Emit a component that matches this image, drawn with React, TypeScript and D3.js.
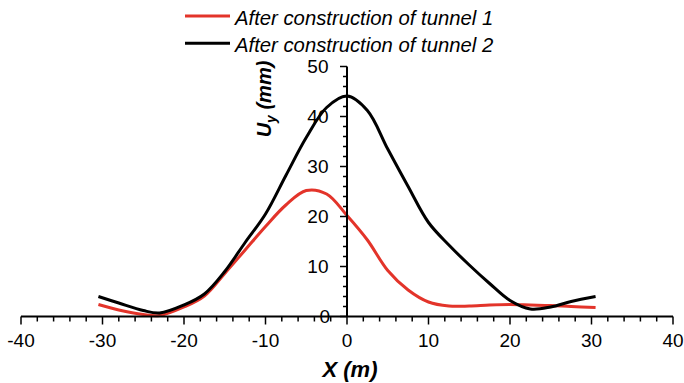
import React from "react";
import * as d3 from "d3";

// Horizontal position (m) of each measurement point
const xTunnel1 = [-30.5, -28, -25, -23, -20, -17.5, -15, -12.5, -10, -7.5, -5, -2.5, 0, 2.5, 5, 7.5, 10, 12.5, 15, 17.5, 20, 22.5, 25, 27.5, 30.5];
// Vertical settlement Uy (mm) after tunnel 1
const uyTunnel1 = [2.4, 1.3, 0.4, 0.2, 1.9, 4.1, 8.6, 13.3, 18, 22.3, 25.2, 24.5, 20.2, 15.3, 9.2, 5.3, 2.9, 2.1, 2.1, 2.3, 2.4, 2.3, 2.2, 2.0, 1.8];

const xTunnel2 = [-30.5, -28, -25, -23, -20, -17.5, -15, -12.5, -10, -7.5, -5, -2.5, 0, 2.5, 5, 7.5, 10, 12.5, 15, 17.5, 20, 22.5, 25, 27.5, 30.5];
// Vertical settlement Uy (mm) after tunnel 2
const uyTunnel2 = [4.0, 2.7, 1.2, 0.7, 2.3, 4.5, 9.0, 14.8, 20.5, 28.2, 35.8, 41.8, 44.1, 41.2, 33.5, 26, 18.8, 14.3, 10.3, 6.6, 3.2, 1.5, 1.9, 3.0, 4.0];

const xTicks = [-40, -30, -20, -10, 0, 10, 20, 30, 40];
const yTicks = [0, 10, 20, 30, 40, 50];

const seriesNames = ["After construction of tunnel 1", "After construction of tunnel 2"];
const seriesColors = ["#e3342a", "#000000"];

const W = 684;
const H = 383;
const FONT = "'Liberation Sans', Arial, sans-serif";

export default function App() {
  const x = d3.scaleLinear().domain([-40, 40]).range([21, 673]);
  const y = d3.scaleLinear().domain([0, 50]).range([316.5, 66.5]);
  const x0 = x(0);
  const y0 = y(0);

  const line = d3
    .line<[number, number]>()
    .x((d) => x(d[0]))
    .y((d) => y(d[1]))
    .curve(d3.curveCatmullRom.alpha(0.5));

  const s1 = xTunnel1.map((v, i) => [v, uyTunnel1[i]] as [number, number]);
  const s2 = xTunnel2.map((v, i) => [v, uyTunnel2[i]] as [number, number]);

  const xMinor = d3.range(-40, 40.001, 2);
  const yMinor = d3.range(0, 50.001, 2);

  return (
    <svg
      width={W}
      height={H}
      style={{ position: "absolute", left: 0, top: 0, background: "#fff" }}
      fontFamily={FONT}
    >
      {/* data lines */}
      <path d={line(s1) || ""} fill="none" stroke={seriesColors[0]} strokeWidth={3} />
      <path d={line(s2) || ""} fill="none" stroke={seriesColors[1]} strokeWidth={3} />

      {/* x axis */}
      <line x1={x(-40)} x2={x(40)} y1={y0} y2={y0} stroke="#000" strokeWidth={2} />
      {xMinor.map((v) => (
        <line
          key={"xm" + v}
          x1={x(v)}
          x2={x(v)}
          y1={y0}
          y2={y0 + (v % 10 === 0 ? 8 : 5)}
          stroke="#000"
          strokeWidth={1.5}
        />
      ))}
      {xTicks.map((v) => (
        <text key={"xl" + v} x={x(v)} y={y0 + 30.3} fontSize={19} textAnchor="middle" fill="#000">
          {v}
        </text>
      ))}

      {/* y axis */}
      <line x1={x0} x2={x0} y1={y(0)} y2={y(50)} stroke="#000" strokeWidth={2} />
      {yMinor.map((v) => (
        <line
          key={"ym" + v}
          x1={x0 - (v % 10 === 0 ? 7 : 4)}
          x2={x0}
          y1={y(v)}
          y2={y(v)}
          stroke="#000"
          strokeWidth={1.5}
        />
      ))}
      {yTicks.map((v) => (
        <text
          key={"yl" + v}
          x={v === 0 ? x0 - 17 : x0 - 18.5}
          y={y(v) + 6.8}
          fontSize={19}
          textAnchor="end"
          fill="#000"
        >
          {v}
        </text>
      ))}

      {/* axis titles */}
      <text x={x0 + 3} y={376.5} fontSize={22} fontWeight="bold" fontStyle="italic" textAnchor="middle">
        X (m)
      </text>
      <text
        transform={`translate(271, 99) rotate(-90)`}
        fontSize={20}
        fontWeight="bold"
        fontStyle="italic"
        textAnchor="middle"
      >
        U
        <tspan fontSize={14} dy={5}>y</tspan>
        <tspan dy={-5}> (mm)</tspan>
      </text>

      {/* legend */}
      {seriesNames.map((name, i) => (
        <g key={name} transform={`translate(0, ${16 + i * 27.3})`}>
          <line x1={185} x2={230} y1={0} y2={0} stroke={seriesColors[i]} strokeWidth={3} />
          <text x={235} y={8.5} fontSize={20.3} fontStyle="italic" fill="#000">
            {name}
          </text>
        </g>
      ))}
    </svg>
  );
}
